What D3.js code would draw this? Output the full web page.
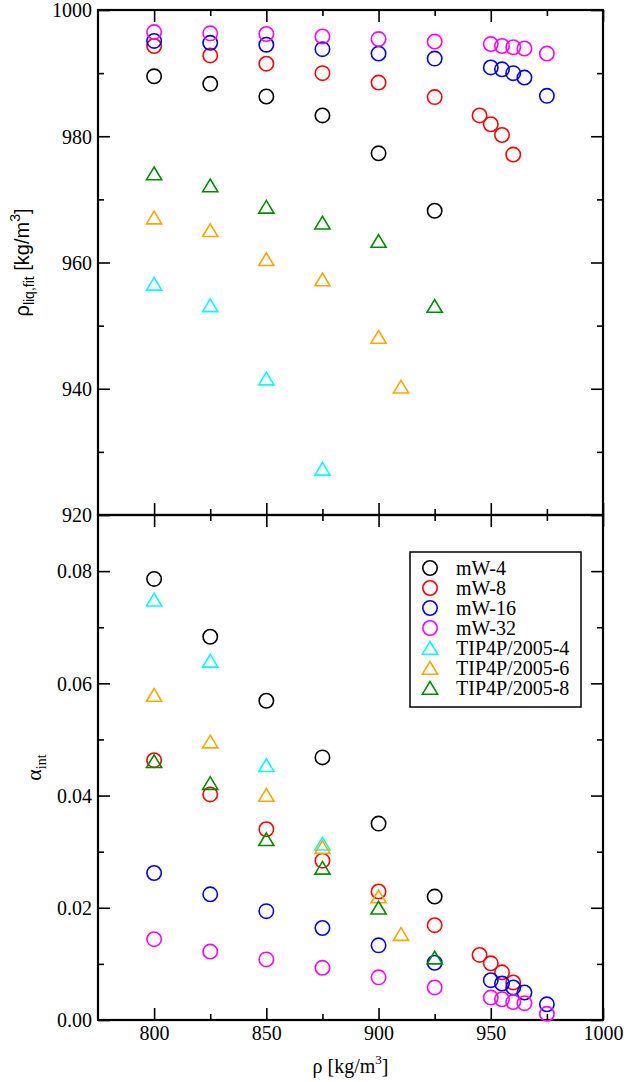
<!DOCTYPE html>
<html><head><meta charset="utf-8">
<script src="https://cdn.jsdelivr.net/npm/d3@7"></script>
<style>body{margin:0;background:#fff}svg{display:block}</style>
</head><body>
<script>
// ---- data ----
const seriesNames = ["mW-4","mW-8","mW-16","mW-32","TIP4P/2005-4","TIP4P/2005-6","TIP4P/2005-8"];
const seriesColors = ["#000000","#ff0000","#0000ff","#ff00ff","#00ffff","#ffa500","#008c00"];
const seriesShapes = ["circle","circle","circle","circle","triangle","triangle","triangle"];

const mw4_x   = [800,825,850,875,900,925];
const mw4_rho = [989.5,988.3,986.3,983.3,977.3,968.2];
const mw4_a   = [0.0786,0.0683,0.0569,0.0468,0.0350,0.0220];

const mw8_x   = [800,825,850,875,900,925,945,950,955,960];
const mw8_rho = [994.3,992.8,991.5,990.0,988.5,986.2,983.3,981.9,980.2,977.1];
const mw8_a   = [0.0463,0.0402,0.0340,0.0284,0.0229,0.0169,0.0116,0.0101,0.0085,0.0067];

const mw16_x   = [800,825,850,875,900,925,950,955,960,965,975];
const mw16_rho = [995.1,994.8,994.5,993.8,993.1,992.3,990.9,990.6,990.0,989.3,986.4];
const mw16_a   = [0.0262,0.0224,0.0194,0.0164,0.0133,0.0102,0.0071,0.0065,0.0058,0.0049,0.0028];

const mw32_x   = [800,825,850,875,900,925,950,955,960,965,975];
const mw32_rho = [996.5,996.3,996.2,995.8,995.4,995.0,994.6,994.3,994.1,993.9,993.1];
const mw32_a   = [0.0144,0.0122,0.0108,0.0093,0.0076,0.0058,0.0040,0.0037,0.0032,0.0030,0.0011];

const tip4_x   = [800,825,850,875];
const tip4_rho = [956.6,953.2,941.6,927.3];
const tip4_a   = [0.0749,0.0640,0.0454,0.0314];

const tip6_x   = [800,825,850,875,900,910];
const tip6_rho = [967.1,965.1,960.5,957.3,948.2,940.3];
const tip6_a   = [0.0579,0.0496,0.0401,0.0308,0.0220,0.0153];

const tip8_x   = [800,825,850,875,900,925];
const tip8_rho = [974.1,972.2,968.8,966.3,963.4,953.1];
const tip8_a   = [0.0461,0.0422,0.0322,0.0271,0.0200,0.0111];

const xTicks = [800,850,900,950,1000];
const xMinor = [825,875,925,975];
const topTicks = [920,940,960,980,1000];
const topMinor = [930,950,970,990];
const botTicks = [0,0.02,0.04,0.06,0.08];
const botMinor = [0.01,0.03,0.05,0.07];

// ---- assemble ----
const allX = [mw4_x,mw8_x,mw16_x,mw32_x,tip4_x,tip6_x,tip8_x];
const allRho = [mw4_rho,mw8_rho,mw16_rho,mw32_rho,tip4_rho,tip6_rho,tip8_rho];
const allA = [mw4_a,mw8_a,mw16_a,mw32_a,tip4_a,tip6_a,tip8_a];
const series = seriesNames.map((n,i)=>({name:n,color:seriesColors[i],shape:seriesShapes[i],
  top: allX[i].map((x,j)=>({x, y: allRho[i][j]})),
  bot: allX[i].map((x,j)=>({x, y: allA[i][j]}))}));

const W=627,H=1082;
const L=98,R=603,T=10,M=515,B=1020;
const SERIF="Liberation Serif";
const SANS="Liberation Sans";
const svg=d3.select("body").append("svg").attr("width",W).attr("height",H);

const x=d3.scaleLinear().domain([775,1000]).range([L,R]);
const yTop=d3.scaleLinear().domain([920,1000]).range([M,T]);
const yBot=d3.scaleLinear().domain([0,0.09]).range([B,M]);

function symPath(shape){
  if(shape==="circle") return d3.arc()({innerRadius:0,outerRadius:7.2,startAngle:0,endAngle:2*Math.PI});
  return "M0,-6.5L7.6,6.2L-7.6,6.2Z";
}

function styleAxis(g,labels){
  g.select(".domain").remove();
  g.attr("font-family",SERIF).attr("font-size",20);
  g.selectAll(".tick line").attr("stroke","#000").attr("stroke-width",1.6);
  g.selectAll(".tick text").attr("font-family",SERIF).attr("font-size",20).attr("fill","#000");
  if(!labels) g.selectAll(".tick text").remove();
}

function panel(y,ticks,minor,fmt,data,xLabels){
  let g=svg.append("g").attr("transform",`translate(${L},0)`)
    .call(d3.axisLeft(y).tickValues(ticks).tickFormat(fmt).tickSizeInner(-12).tickSizeOuter(0).tickPadding(6));
  styleAxis(g,true);
  g.selectAll(".tick text").attr("dy","0.34em");
  g=svg.append("g").attr("transform",`translate(${L},0)`)
    .call(d3.axisLeft(y).tickValues(minor).tickSizeInner(-6).tickSizeOuter(0));
  styleAxis(g,false);
  g=svg.append("g").attr("transform",`translate(${R},0)`)
    .call(d3.axisRight(y).tickValues(ticks).tickSizeInner(-12).tickSizeOuter(0));
  styleAxis(g,false);
  g=svg.append("g").attr("transform",`translate(${R},0)`)
    .call(d3.axisRight(y).tickValues(minor).tickSizeInner(-6).tickSizeOuter(0));
  styleAxis(g,false);
  const y0=y.range()[0], y1=y.range()[1];
  g=svg.append("g").attr("transform",`translate(0,${y0})`)
    .call(d3.axisBottom(x).tickValues(xTicks).tickSizeInner(-12).tickSizeOuter(0).tickPadding(6).tickFormat(d3.format("d")));
  styleAxis(g,xLabels);
  if(xLabels) g.selectAll(".tick text").attr("dy","0.71em");
  g=svg.append("g").attr("transform",`translate(0,${y0})`)
    .call(d3.axisBottom(x).tickValues(xMinor).tickSizeInner(-6).tickSizeOuter(0));
  styleAxis(g,false);
  g=svg.append("g").attr("transform",`translate(0,${y1})`)
    .call(d3.axisTop(x).tickValues(xTicks).tickSizeInner(-12).tickSizeOuter(0));
  styleAxis(g,false);
  g=svg.append("g").attr("transform",`translate(0,${y1})`)
    .call(d3.axisTop(x).tickValues(xMinor).tickSizeInner(-6).tickSizeOuter(0));
  styleAxis(g,false);
  svg.append("rect").attr("x",L).attr("y",y1).attr("width",R-L).attr("height",y0-y1)
    .attr("fill","none").attr("stroke","#000").attr("stroke-width",2.2);
  data.forEach(s=>{
    svg.append("g").selectAll("path").data(s.pts).join("path")
      .attr("d",symPath(s.shape))
      .attr("transform",d=>`translate(${x(d.x)},${y(d.y)})`)
      .attr("fill","none").attr("stroke",s.color).attr("stroke-width",1.6);
  });
}

panel(yTop,topTicks,topMinor,d3.format("d"),
  series.map(s=>({shape:s.shape,color:s.color,pts:s.top})),false);
panel(yBot,botTicks,botMinor,d3.format(".2f"),
  series.map(s=>({shape:s.shape,color:s.color,pts:s.bot})),true);

// y label top (sans)
const tl=svg.append("text").attr("transform",`translate(29,${(T+M)/2}) rotate(-90)`)
  .attr("text-anchor","middle").attr("font-family",SANS).attr("font-size",20).attr("fill","#000");
tl.append("tspan").text("ρ");
tl.append("tspan").attr("font-size",14).attr("dy",5).text("liq,fit");
tl.append("tspan").attr("dy",-5).text(" [kg/m");
tl.append("tspan").attr("font-size",14).attr("dy",-9).text("3");
tl.append("tspan").attr("dy",9).text("]");

// y label bottom (serif)
const bl=svg.append("text").attr("transform",`translate(41,${(M+B)/2}) rotate(-90)`)
  .attr("text-anchor","middle").attr("font-family",SERIF).attr("font-size",22).attr("fill","#000");
bl.append("tspan").text("α");
bl.append("tspan").attr("font-size",14).attr("dy",5).text("int");

// x label
const xl=svg.append("text").attr("x",(L+R)/2).attr("y",1073)
  .attr("text-anchor","middle").attr("font-family",SERIF).attr("font-size",20).attr("fill","#000");
xl.append("tspan").text("ρ [kg/m");
xl.append("tspan").attr("font-size",13).attr("dy",-9).text("3");
xl.append("tspan").attr("dy",9).text("]");

// legend
const lg=svg.append("g");
lg.append("rect").attr("x",410).attr("y",552).attr("width",171).attr("height",155)
  .attr("fill","#fff").attr("stroke","#000").attr("stroke-width",1.5);
series.forEach((s,i)=>{
  const cy=568+20*i;
  lg.append("path").attr("d",symPath(s.shape)).attr("transform",`translate(430,${cy})`)
    .attr("fill","none").attr("stroke",s.color).attr("stroke-width",1.6);
  lg.append("text").attr("x",456).attr("y",cy+7).attr("font-family",SERIF).attr("font-size",20)
    .attr("fill","#000").text(s.name);
});
</script>
</body></html>
